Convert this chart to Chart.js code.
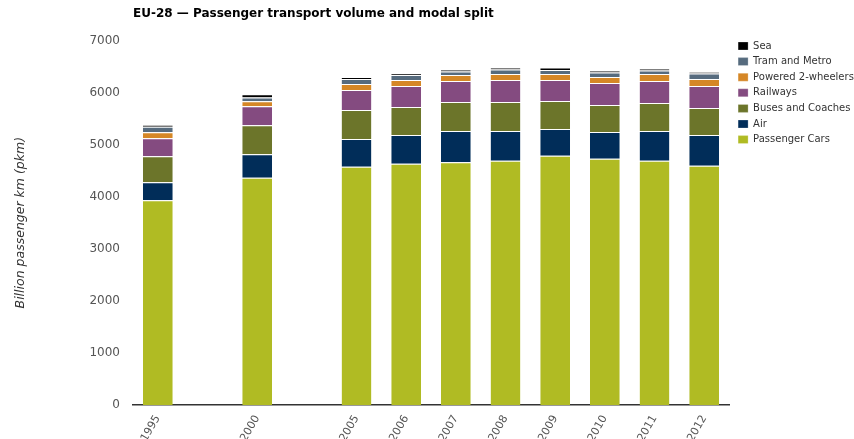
<!DOCTYPE html>
<html>
<head>
<meta charset="utf-8">
<script src="https://cdn.jsdelivr.net/npm/chart.js@4.4.1/dist/chart.umd.min.js"></script>
<style>
html,body{margin:0;padding:0;background:#fff;}
#wrap{width:854px;height:439px;position:relative;}
</style>
</head>
<body>
<div id="wrap"><canvas id="c" width="854" height="439"></canvas></div>
<script>
// Categories (blank slots reproduce the gaps between 1995, 2000 and 2005)
const years = ['1995', '', '2000', '', '2005', '2006', '2007', '2008', '2009', '2010', '2011', '2012'];

// Series values, billion passenger km
const passengerCars   = [3933, null, 4362, null, 4573, 4630, 4661, 4687, 4783, 4726, 4687, 4592];
const air             = [345,  null, 452,  null, 536,  556,  601,  575,  517,  517,  575,  594];
const busesCoaches    = [498,  null, 556,  null, 556,  536,  556,  556,  537,  518,  537,  517];
const railways        = [345,  null, 364,  null, 383,  403,  402,  422,  403,  421,  421,  422];
const powered2Wheelers= [115,  null, 96,   null, 115,  115,  115,  114,  114,  115,  134,  133];
const tramMetro       = [108,  null, 76,   null, 95,   95,   69,   89,   77,   88,   69,   108];
const sea             = [32,   null, 58,   null, 39,   31,   39,   38,   50,   38,   39,   27];

const yTicks = [0, 1000, 2000, 3000, 4000, 5000, 6000, 7000];

const seriesNames = ['Passenger Cars', 'Air', 'Buses and Coaches', 'Railways', 'Powered 2-wheelers', 'Tram and Metro', 'Sea'];
const seriesData = [passengerCars, air, busesCoaches, railways, powered2Wheelers, tramMetro, sea];
const seriesColors = ['#b0bb23', '#012d59', '#6c752a', '#844b80', '#d58726', '#566b7e', '#000000'];

const datasets = seriesNames.map((name, i) => ({
  label: name,
  data: seriesData[i],
  backgroundColor: seriesColors[i],
  borderColor: '#ffffff',
  borderWidth: {top: 1, left: 0, right: 0, bottom: 0},
  borderSkipped: 'start',
  barPercentage: 0.6,
  categoryPercentage: 1.0
}));

const FONT = 'DejaVu Sans';

// Nudge the legend block so it sits next to the top of the plot like the reference
const legendNudge = {
  id: 'legendNudge',
  afterLayout(chart) {
    const lg = chart.legend;
    if (!lg) return;
    lg.top -= 5; lg.bottom -= 5;
    lg.left += 3.5; lg.right += 3.5;
  }
};

new Chart(document.getElementById('c'), {
  type: 'bar',
  data: { labels: years, datasets },
  plugins: [legendNudge],
  options: {
    responsive: false,
    animation: false,
    layout: { padding: { left: 10, right: 0, top: 7, bottom: 0 } },
    plugins: {
      title: {
        display: true,
        text: 'EU-28 \u2014 Passenger transport volume and modal split',
        align: 'start',
        fullSize: false,
        color: '#000',
        font: { family: FONT, size: 12, weight: 'bold' },
        padding: { top: 0, bottom: 19 }
      },
      legend: {
        display: true,
        position: 'right',
        align: 'start',
        fullSize: false,
        reverse: true,
        maxWidth: 125,
        labels: {
          boxWidth: 10,
          boxHeight: 8,
          padding: 5.6,
          color: '#333',
          font: { family: FONT, size: 10 }
        }
      },
      tooltip: { enabled: false }
    },
    scales: {
      x: {
        stacked: true,
        afterFit: (scale) => { scale.height = 34; },
        grid: { display: false, drawTicks: false },
        border: { display: true, color: '#333', width: 1.5 },
        ticks: {
          autoSkip: false,
          maxRotation: 60,
          minRotation: 60,
          padding: 8,
          color: '#555',
          font: { family: FONT, size: 11 }
        }
      },
      y: {
        stacked: true,
        min: 0,
        max: 7000,
        afterBuildTicks: (scale) => { scale.ticks = yTicks.map(v => ({ value: v })); },
        afterFit: (scale) => { scale.width = 123; },
        grid: { display: false, drawTicks: false },
        border: { display: false },
        ticks: {
          padding: 13,
          color: '#555',
          font: { family: FONT, size: 12 },
          callback: (v) => String(v)
        },
        title: {
          display: true,
          text: 'Billion passenger km (pkm)',
          color: '#333',
          font: { family: FONT, size: 12.5, style: 'italic' },
          padding: { top: 3, bottom: 0 }
        }
      }
    }
  }
});
</script>
</body>
</html>
